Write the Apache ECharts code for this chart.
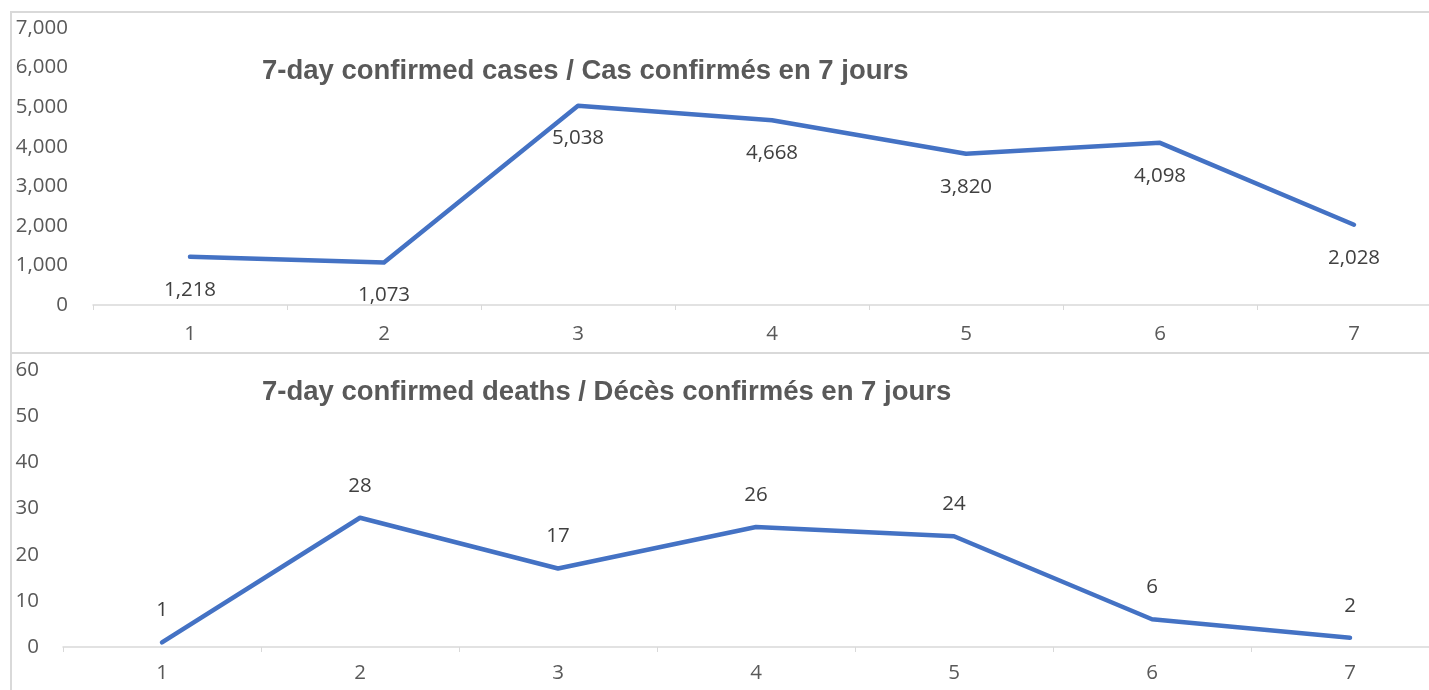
<!DOCTYPE html>
<html>
<head>
<meta charset="utf-8">
<script src="https://cdn.jsdelivr.net/npm/echarts@6/dist/echarts.min.js"></script>
<style>
html,body{margin:0;padding:0;background:#fff;}
#chart{width:1429px;height:690px;}
</style>
</head>
<body>
<div id="chart"></div>
<script>
var days = ['1','2','3','4','5','6','7'];
var casesValues = [1218, 1073, 5038, 4668, 3820, 4098, 2028];
var deathsValues = [1, 28, 17, 26, 24, 6, 2];
var casesTitle = '7-day confirmed cases / Cas confirmés en 7 jours';
var deathsTitle = '7-day confirmed deaths / Décès confirmés en 7 jours';

var chart = echarts.init(document.getElementById('chart'), null, {renderer: 'canvas'});
var fmt = function (v) { return Number(v).toLocaleString('en-US'); };
var tickFont = {color: '#595959', fontSize: 20.5, fontFamily: 'Open Sans'};
var lineColor = '#4472C4';
var titleStyle = {color: '#595959', fontSize: 27.5, fontWeight: 'bold', fontFamily: '"Liberation Sans", Arial'};

chart.setOption({
  animation: false,
  title: [
    {text: casesTitle, left: 262, top: 57, textStyle: titleStyle, padding: 0},
    {text: deathsTitle, left: 262, top: 378, textStyle: titleStyle, padding: 0}
  ],
  graphic: [
    {type: 'rect', shape: {x: 11, y: 12, width: 1500, height: 341}, style: {fill: 'none', stroke: '#d9d9d9', lineWidth: 2}, silent: true},
    {type: 'rect', shape: {x: 11, y: 353, width: 1500, height: 400}, style: {fill: 'none', stroke: '#d9d9d9', lineWidth: 2}, silent: true}
  ],
  grid: [
    {left: 93, top: 28, width: 1358, height: 277, outerBoundsMode: 'none', containLabel: false},
    {left: 63, top: 370, width: 1386, height: 277, outerBoundsMode: 'none', containLabel: false}
  ],
  xAxis: [
    {type: 'category', gridIndex: 0, data: days, boundaryGap: true,
     axisLine: {lineStyle: {color: '#d9d9d9', width: 1.5}},
     axisTick: {show: true, inside: false, length: 5, lineStyle: {color: '#d9d9d9'}},
     axisLabel: Object.assign({margin: 19}, tickFont)},
    {type: 'category', gridIndex: 1, data: days, boundaryGap: true,
     axisLine: {lineStyle: {color: '#d9d9d9', width: 1.5}},
     axisTick: {show: true, inside: false, length: 5, lineStyle: {color: '#d9d9d9'}},
     axisLabel: Object.assign({margin: 16}, tickFont)}
  ],
  yAxis: [
    {type: 'value', gridIndex: 0, min: 0, max: 7000, interval: 1000,
     axisLine: {show: false}, axisTick: {show: false}, splitLine: {show: false},
     axisLabel: Object.assign({margin: 25, formatter: fmt}, tickFont)},
    {type: 'value', gridIndex: 1, min: 0, max: 60, interval: 10,
     axisLine: {show: false}, axisTick: {show: false}, splitLine: {show: false},
     axisLabel: Object.assign({margin: 24, formatter: fmt}, tickFont)}
  ],
  series: [
    {type: 'line', xAxisIndex: 0, yAxisIndex: 0, data: casesValues,
     symbol: 'circle', symbolSize: 1, itemStyle: {color: lineColor},
     lineStyle: {color: lineColor, width: 4.5, cap: 'round', join: 'round'},
     label: {show: true, position: 'bottom', distance: 22, formatter: function (p) { return fmt(p.value); },
             color: '#404040', fontSize: 20.5, fontFamily: 'Open Sans'}},
    {type: 'line', xAxisIndex: 1, yAxisIndex: 1, data: deathsValues,
     symbol: 'circle', symbolSize: 1, itemStyle: {color: lineColor},
     lineStyle: {color: lineColor, width: 4.5, cap: 'round', join: 'round'},
     label: {show: true, position: 'top', distance: 21, formatter: function (p) { return fmt(p.value); },
             color: '#404040', fontSize: 20.5, fontFamily: 'Open Sans'}}
  ]
});
</script>
</body>
</html>
